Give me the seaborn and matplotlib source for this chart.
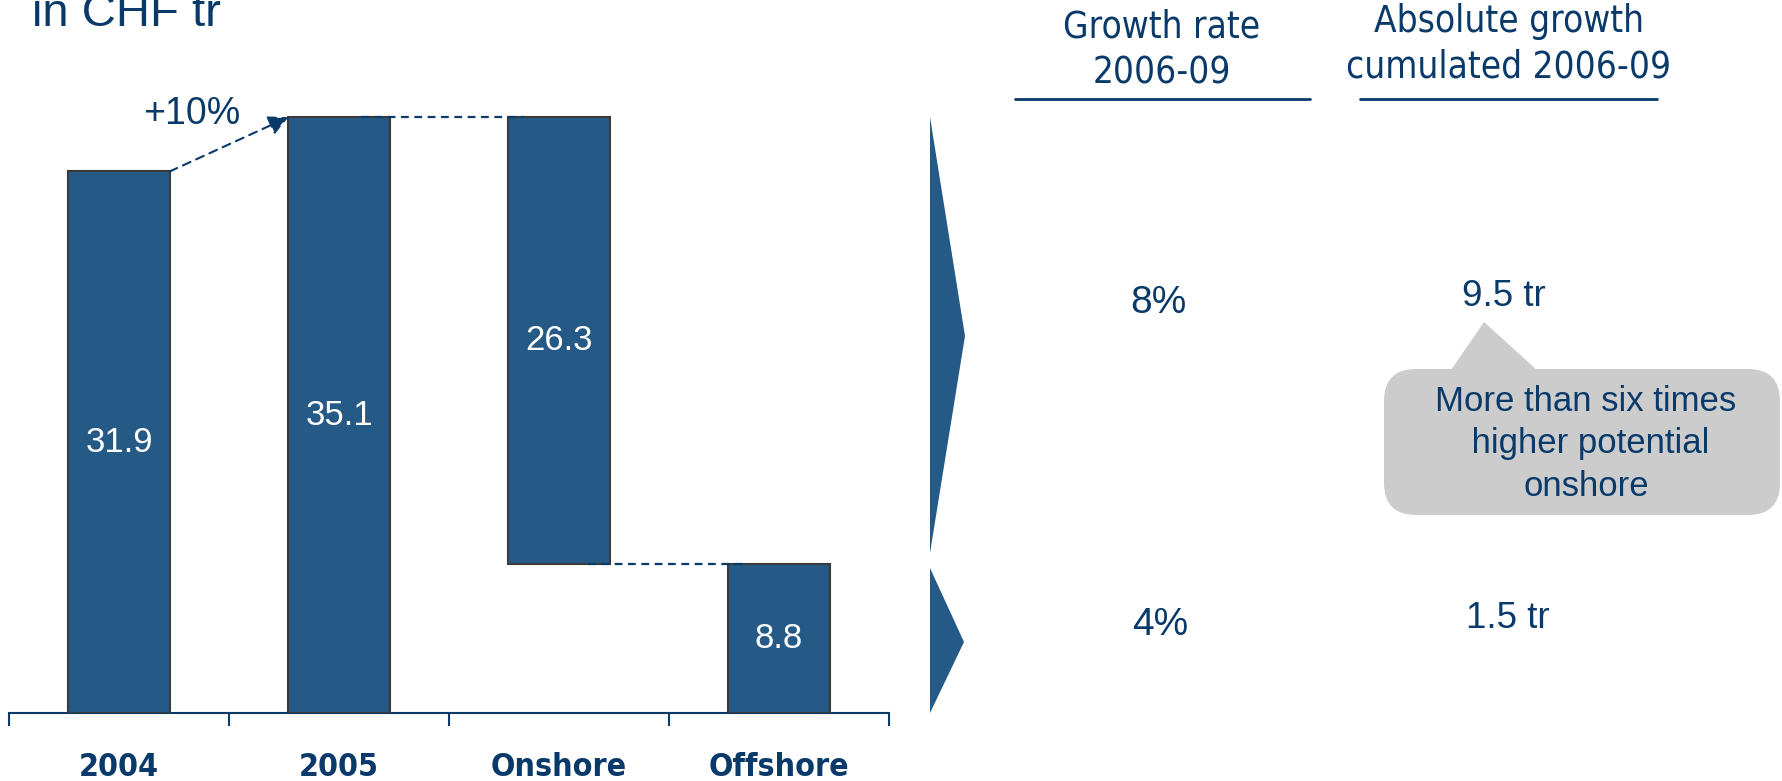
import matplotlib
matplotlib.use("Agg")
import matplotlib.pyplot as plt
from matplotlib.patches import Polygon, FancyBboxPatch
from matplotlib import font_manager
import seaborn as sns
import pandas as pd

# ---- data ----
categories = ["2004", "2005", "Onshore", "Offshore"]
values = [31.9, 35.1, 26.3, 8.8]
bottoms = [0.0, 0.0, 8.8, 0.0]
value_labels = ["31.9", "35.1", "26.3", "8.8"]
growth_label = "+10%"
title_text = "in CHF tr"
header_rate = "Growth rate\n2006-09"
header_abs = "Absolute growth\ncumulated 2006-09"
growth_rates = ["8%", "4%"]
abs_growth = ["9.5 tr", "1.5 tr"]
callout_text = "More than six times\n higher potential\nonshore"

NAVY = "#0a3a6a"
BAR = "#255a87"
EDGE = "#3a3a3a"
GREY = "#cccccc"

sns.set_style("white")
plt.rcParams["font.family"] = ["Liberation Sans", "DejaVu Sans"]

# pick a condensed face if one is installed
has_condensed = any(f.name == "DejaVu Sans" and f.stretch in ("condensed", "semi-condensed", 600, 700)
                    for f in font_manager.fontManager.ttflist)
if has_condensed:
    NARROW = dict(family=["DejaVu Sans"], fontstretch="condensed")
    hdr_size, tick_size = 26.5, 23
else:
    NARROW = dict(family=["Liberation Sans", "DejaVu Sans"])
    hdr_size, tick_size = 28, 25

W, H = 1782, 781
fig = plt.figure(figsize=(W / 100, H / 100), dpi=100)

# ---- main waterfall axes ----
ax = fig.add_axes([9 / W, 68 / H, 880 / W, 679 / H])
df = pd.DataFrame({"category": categories,
                   "top": [b + v for b, v in zip(bottoms, values)]})
sns.barplot(data=df, x="category", y="top", color=BAR, saturation=1,
            width=0.46, edgecolor=EDGE, linewidth=1.5, ax=ax, zorder=3)
for patch, b, v in zip(ax.patches, bottoms, values):
    patch.set_y(b)
    patch.set_height(v)

ax.set_xlim(-0.5, 3.5)
ax.set_ylim(0, 40)
ax.set_xlabel("")
ax.set_ylabel("")
ax.set_yticks([])
for s in ["top", "left", "right"]:
    ax.spines[s].set_visible(False)
ax.spines["bottom"].set_color(NAVY)
ax.spines["bottom"].set_linewidth(1.5)
ax.set_xticks([i - 0.5 for i in range(len(categories) + 1)])
ax.set_xticklabels([])
ax.tick_params(axis="x", which="major", bottom=True, length=9, width=1.5,
               color=NAVY, direction="out")
ax.set_xticks(range(len(categories)), minor=True)
ax.set_xticklabels(categories, minor=True, fontsize=tick_size, fontweight="bold",
                   color=NAVY, **NARROW)
ax.tick_params(axis="x", which="minor", bottom=True, length=0, pad=28)

# value labels inside bars
for i, (b, v, lab) in enumerate(zip(bottoms, values, value_labels)):
    ax.text(i, b + v / 2, lab, ha="center", va="center", color="white",
            fontsize=25, zorder=5)

half = 0.23
# growth arrow
ax.annotate("", xy=(1 - half, values[1]), xytext=(0 + half, values[0]),
            arrowprops=dict(arrowstyle="-|>,head_length=1.2,head_width=0.6",
                            color=NAVY, lw=1.5, linestyle=(0, (4, 3)),
                            shrinkA=0, shrinkB=0), zorder=6)
ax.text(0.33, values[1] + 0.2, growth_label, ha="center", va="center",
        color=NAVY, fontsize=27)

# connector dashed lines
ax.plot([1.1, 1.84], [values[1], values[1]], color=NAVY, lw=1.6,
        linestyle=(0, (3.5, 2.5)), zorder=4)
ax.plot([2.13, 2.86], [bottoms[2], bottoms[2]], color=NAVY, lw=1.6,
        linestyle=(0, (3.5, 2.5)), zorder=4)

# ---- overlay axes in pixel coordinates ----
ov = fig.add_axes([0, 0, 1, 1], zorder=10)
ov.set_xlim(0, W)
ov.set_ylim(H, 0)
ov.axis("off")

ov.text(32, 26, title_text, ha="left", va="baseline", color=NAVY, fontsize=34)

# chevrons
ov.add_patch(Polygon([(930, 117), (965, 336), (930, 553)], closed=True,
                     facecolor=BAR, edgecolor="none"))
ov.add_patch(Polygon([(930, 568), (964, 642), (930, 713)], closed=True,
                     facecolor=BAR, edgecolor="none"))

# headers
ov.text(1162, 50, header_rate, ha="center", va="center", color=NAVY,
        fontsize=hdr_size, linespacing=1.3, **NARROW)
ov.text(1509, 44, header_abs, ha="center", va="center", color=NAVY,
        fontsize=hdr_size, linespacing=1.3, **NARROW)
ov.plot([1015, 1310], [99, 99], color=NAVY, lw=2)
ov.plot([1360, 1657], [99, 99], color=NAVY, lw=2)

# values
ov.text(1158, 303, growth_rates[0], ha="center", va="center", color=NAVY, fontsize=28)
ov.text(1160, 625, growth_rates[1], ha="center", va="center", color=NAVY, fontsize=28)
ov.text(1504, 297, abs_growth[0], ha="center", va="center", color=NAVY, fontsize=26.5)
ov.text(1508, 619, abs_growth[1], ha="center", va="center", color=NAVY, fontsize=26.5)

# callout
ov.add_patch(FancyBboxPatch((1384, 369), 396, 146,
                            boxstyle="round,pad=0,rounding_size=32",
                            facecolor=GREY, edgecolor="none"))
ov.add_patch(Polygon([(1451, 370), (1484, 322), (1537, 370)], closed=True,
                     facecolor=GREY, edgecolor="none"))
ov.text(1586, 444, callout_text, ha="center", va="center", color=NAVY,
        fontsize=25, linespacing=1.36, multialignment="center")

fig.savefig("out.png", dpi=100)
